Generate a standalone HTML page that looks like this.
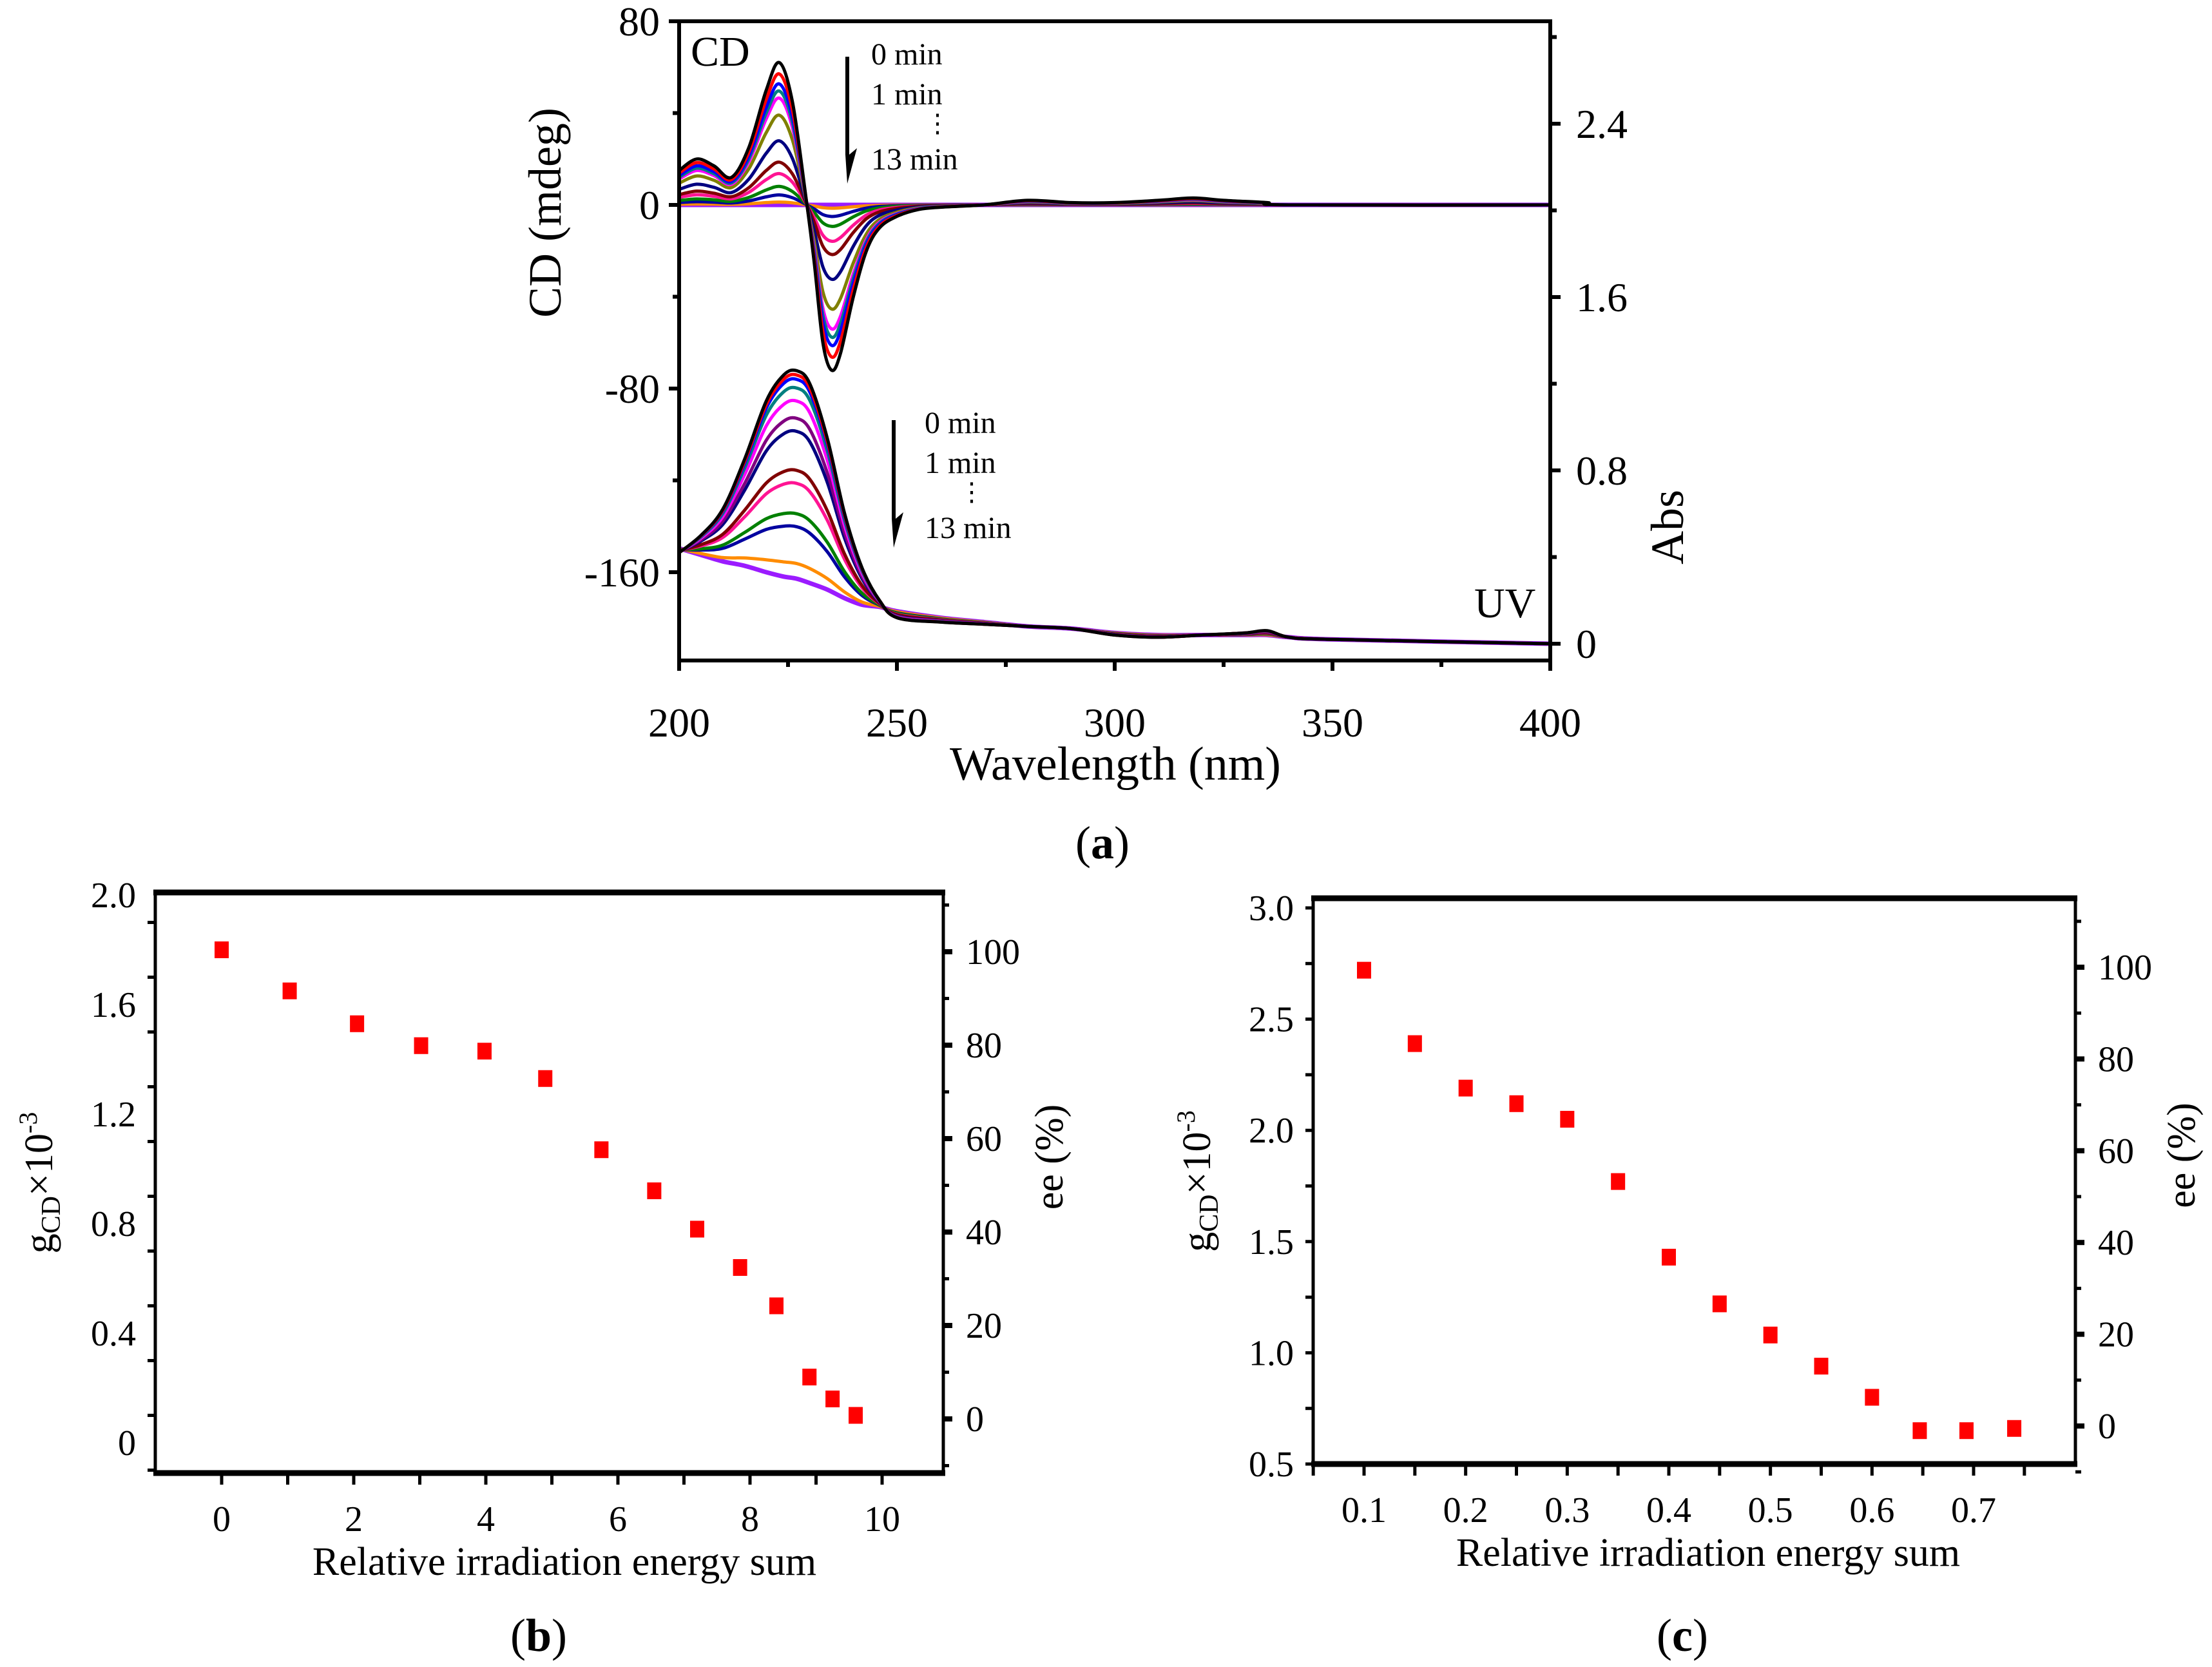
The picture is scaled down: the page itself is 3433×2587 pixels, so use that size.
<!DOCTYPE html>
<html><head><meta charset="utf-8">
<style>
html,body{margin:0;padding:0;background:#fff;}
svg{display:block;font-family:"Liberation Serif",serif;}
</style></head>
<body>
<svg id="fig" width="3433" height="2587" viewBox="0 0 3433 2587" xmlns="http://www.w3.org/2000/svg">
<g id="pa"></g>
<g id="pb"></g>
<g id="pc"></g>
</svg>
<script>
// ---------- Panel (a) data ----------
const wl = [200,204,208,212,216,220,223,226,229,231,233,235,237,240,243,246,250,255,260,270,280,290,300,310,318,325,335,340,400];
const cdBlack = [15,20,17,12,25,50,62,45,5,-25,-60,-72,-65,-40,-20,-10,-5,-2,-1,0,2,1,1,2,3,2,1,0,0];
const cdScale = [1,0.92,0.85,0.80,0.75,0.63,0.45,0.30,0.22,0.13,0.07,0.02,0];
const seriesColors = ["#000000","#ff0000","#0000ff","#008080","#ff00ff","#808000","#000080","#800000","#ff1493","#008000","#0000a0","#ff8c00","#9b1bff"];
const uvWl = [200,205,210,215,220,224,227,230,234,238,242,246,250,260,270,280,290,300,310,320,330,335,340,350,400];
const uvBlack = [0.42,0.50,0.62,0.85,1.12,1.24,1.26,1.20,0.95,0.60,0.35,0.20,0.12,0.10,0.09,0.08,0.07,0.04,0.03,0.04,0.05,0.06,0.03,0.02,0.0];
const uvFinal = [0.44,0.41,0.38,0.36,0.33,0.31,0.30,0.28,0.25,0.21,0.18,0.17,0.15,0.12,0.10,0.08,0.07,0.05,0.04,0.04,0.04,0.04,0.03,0.02,0.0];
const uvPeaks = [1.26,1.24,1.22,1.18,1.12,1.04,0.98,0.80,0.74,0.60,0.54,0.37,0.30];
const uvColors = ["#000000","#ff0000","#0000ff","#008080","#ff00ff","#800080","#000080","#800000","#ff1493","#008000","#0000a0","#ff8c00","#9b1bff"];
const aXTicks = [200,250,300,350,400];
const aCDTicks = [80,0,-80,-160];
const aAbsTicks = [0,0.8,1.6,2.4];
// ---------- Panel (b) data ----------
const bX = [0,1.03,2.05,3.02,3.98,4.9,5.75,6.55,7.2,7.85,8.4,8.9,9.25,9.6];
const bY = [1.80,1.65,1.53,1.45,1.43,1.33,1.07,0.92,0.78,0.64,0.50,0.24,0.16,0.10];
const bXTicks = [0,2,4,6,8,10];
const bYTicks = ["0","0.4","0.8","1.2","1.6","2.0"];
const bEeTicks = [0,20,40,60,80,100];
// ---------- Panel (c) data ----------
const cX = [0.1,0.15,0.2,0.25,0.3,0.35,0.4,0.45,0.5,0.55,0.6,0.647,0.693,0.74];
const cY = [2.72,2.39,2.19,2.12,2.05,1.77,1.43,1.22,1.08,0.94,0.80,0.65,0.65,0.66];
const cXTicks = ["0.1","0.2","0.3","0.4","0.5","0.6","0.7"];
const cYTicks = ["0.5","1.0","1.5","2.0","2.5","3.0"];
const cEeTicks = [0,20,40,60,80,100];

const NS="http://www.w3.org/2000/svg";
function mk(parent,tag,attrs,text){const e=document.createElementNS(NS,tag);for(const k in attrs)e.setAttribute(k,attrs[k]);if(text!==undefined)e.textContent=text;parent.appendChild(e);return e;}
function lin(d0,d1,r0,r1){return v=>r0+(v-d0)*(r1-r0)/(d1-d0);}
function smoothPath(pts){let d="M"+pts[0][0].toFixed(1)+","+pts[0][1].toFixed(1);
 for(let i=0;i<pts.length-1;i++){const p0=pts[Math.max(0,i-1)],p1=pts[i],p2=pts[i+1],p3=pts[Math.min(pts.length-1,i+2)];
  const c1=[p1[0]+(p2[0]-p0[0])/6,p1[1]+(p2[1]-p0[1])/6],c2=[p2[0]-(p3[0]-p1[0])/6,p2[1]-(p3[1]-p1[1])/6];
  d+="C"+c1[0].toFixed(1)+","+c1[1].toFixed(1)+" "+c2[0].toFixed(1)+","+c2[1].toFixed(1)+" "+p2[0].toFixed(1)+","+p2[1].toFixed(1);}
 return d;}

// ===== Panel a =====
(function(){
const g=document.getElementById('pa');
const L=1054,R=2406,T=33,B=1025;
const x=lin(200,400,L,R), yCD=lin(0,80,318,33), yAbs=lin(0,0.8,999,730);
for(let k=uvPeaks.length-1;k>=0;k--){
  const f=(uvPeaks[k]-uvPeaks[uvPeaks.length-1])/(uvPeaks[0]-uvPeaks[uvPeaks.length-1]);
  const pts=uvWl.map((w,i)=>[x(w),yAbs(uvFinal[i]+f*(uvBlack[i]-uvFinal[i]))]);
  const p=mk(g,'path',{d:smoothPath(pts),fill:'none',stroke:uvColors[k],'stroke-width':k===uvPeaks.length-1?7:5});
  
  
}
for(let k=cdScale.length-1;k>=0;k--){
  const pts=wl.map((w,i)=>[x(w),yCD(cdBlack[i]*cdScale[k])]);
  const p=mk(g,'path',{d:smoothPath(pts),fill:'none',stroke:seriesColors[k],'stroke-width':k===cdScale.length-1?7:5});
  
  
}
const fr=mk(g,'rect',{x:L,y:T,width:R-L,height:B-T,fill:'none',stroke:'#000','stroke-width':6});


for(let v=200;v<=400;v+=25){const major=v%50===0;mk(g,'line',{x1:x(v),x2:x(v),y1:B,y2:B+(major?16:10),stroke:'#000','stroke-width':6});}
aXTicks.forEach(v=>{const t=mk(g,'text',{x:x(v),y:B+118,'font-size':64,'text-anchor':'middle'},String(v));
 
 });
for(let v=-200;v<=80;v+=40){const yy=yCD(v);if(yy>B)continue;mk(g,'line',{x1:L-(v%80===0?16:10),x2:L,y1:yy,y2:yy,stroke:'#000','stroke-width':6});}
aCDTicks.forEach(v=>{const t=mk(g,'text',{x:L-30,y:yCD(v)+22,'font-size':64,'text-anchor':'end'},String(v));
 
 });
for(let v=0;v<=2.8;v+=0.4){const yy=yAbs(v);if(yy<T)continue;mk(g,'line',{x1:R,x2:R+(Math.round(v*10)%8===0?16:10),y1:yy,y2:yy,stroke:'#000','stroke-width':6});}
aAbsTicks.forEach(v=>{const t=mk(g,'text',{x:R+40,y:yAbs(v)+22,'font-size':64},String(v));
 
 });
})();
</script>
<script>
(function(){
const g=document.getElementById('pa');
function T(x,y,s,txt,name,extra){const e=document.createElementNS("http://www.w3.org/2000/svg",'text');e.setAttribute('x',x);e.setAttribute('y',y);e.setAttribute('font-size',s);if(extra)for(const k in extra)e.setAttribute(k,extra[k]);e.textContent=txt;
 
 
 g.appendChild(e);return e;}
T(1731,1210,74,"Wavelength (nm)","x-axis-title",{'text-anchor':'middle'});
T(0,0,72,"CD (mdeg)","y-axis-title-cd",{'text-anchor':'middle',transform:'translate(870,330) rotate(-90)'});
T(0,0,72,"Abs","y-axis-title-abs",{'text-anchor':'middle',transform:'translate(2612,818) rotate(-90)'});
T(1072,102,66,"CD","cd-label");
T(2288,958,66,"UV","uv-label");
T(1352,100,48,"0 min","cd-legend-0");
T(1352,162,48,"1 min","cd-legend-1");
T(1352,263,48,"13 min","cd-legend-13");
T(1435,205,40,"⋮","cd-legend-dots");
T(1435,672,48,"0 min","uv-legend-0");
T(1435,734,48,"1 min","uv-legend-1");
T(1435,835,48,"13 min","uv-legend-13");
T(1488,777,40,"⋮","uv-legend-dots");
const pa=T(1711,1332,72,"","panel-label-a",{'text-anchor':'middle'});
pa.innerHTML='(<tspan font-weight="bold">a</tspan>)';
const NS="http://www.w3.org/2000/svg";
function arrow(x,y1,y2,name){const p=document.createElementNS(NS,'path');
 p.setAttribute('d',`M${x-3},${y1} L${x+3},${y1} L${x+3},${y2-45} L${x+15},${y2-55} L${x},${y2} L${x-3},${y2-45}Z`);
 p.setAttribute('fill','#000');
 
 
 g.appendChild(p);}
arrow(1315,88,285,'cd-arrow');
arrow(1387,652,850,'uv-arrow');
})();
</script>
<script>
(function(){
const NS="http://www.w3.org/2000/svg";
function mk(parent,tag,attrs,text){const e=document.createElementNS(NS,tag);for(const k in attrs)e.setAttribute(k,attrs[k]);if(text!==undefined)e.textContent=text;parent.appendChild(e);return e;}
function lin(d0,d1,r0,r1){return v=>r0+(v-d0)*(r1-r0)/(d1-d0);}
function scatter(id,cfg){
 const g=document.getElementById(id);
 const {L,R,Tp,B,x,y,yEe,xs,ys,xTicks,xMinor,yTicks,yMinor,eeTicks,eeMinor,pref,labelX}=cfg;
 const fr=mk(g,'rect',{x:L,y:Tp,width:R-L,height:B-Tp,fill:'none',stroke:'#000','stroke-width':5});
 
 
 mk(g,'line',{x1:L-3,x2:R+3,y1:Tp,y2:Tp,stroke:'#000','stroke-width':9});
 mk(g,'line',{x1:L-3,x2:R+3,y1:B,y2:B,stroke:'#000','stroke-width':9});
 xMinor.forEach(v=>mk(g,'line',{x1:x(v),x2:x(v),y1:B,y2:B+18,stroke:'#000','stroke-width':5}));
 xTicks.forEach(v=>{const t=mk(g,'text',{x:x(+v),y:B+90,'font-size':56,'text-anchor':'middle'},String(v));
  
  });
 yMinor.forEach(v=>mk(g,'line',{x1:L-12,x2:L,y1:y(v),y2:y(v),stroke:'#000','stroke-width':5}));
 yTicks.forEach(v=>{const t=mk(g,'text',{x:L-30,y:y(+v)+19,'font-size':56,'text-anchor':'end'},v);
  
  });
 eeMinor.forEach(v=>mk(g,'line',{x1:R,x2:R+(v%20===0?14:9),y1:yEe(v),y2:yEe(v),stroke:'#000','stroke-width':v%20===0?8:5}));
 eeTicks.forEach(v=>{const t=mk(g,'text',{x:R+35,y:yEe(v)+19,'font-size':56},String(v));
  
  });
 xs.forEach((v,i)=>{const r=mk(g,'rect',{x:x(v)-11,y:y(ys[i])-13,width:22,height:26,fill:'#ff0000'});
  
  });
 const xt=mk(g,'text',{x:labelX,y:B+158,'font-size':62,'text-anchor':'middle'},'Relative irradiation energy sum');
 
 
 const yt=mk(g,'text',{'font-size':62,'text-anchor':'middle',transform:`translate(${L-160},${(Tp+B)/2}) rotate(-90)`});
 
 
 yt.innerHTML='g<tspan font-size="42" dy="12">CD</tspan><tspan dy="-12">×10</tspan><tspan font-size="40" dy="-24">-3</tspan>';
 const et=mk(g,'text',{'font-size':62,'text-anchor':'middle',transform:`translate(${R+185},${(Tp+B)/2-40}) rotate(-90)`},'ee (%)');
 
 
 const pl=mk(g,'text',{x:labelX-40,y:2562,'font-size':72,'text-anchor':'middle'});
 pl.innerHTML='(<tspan font-weight="bold">'+pref+'</tspan>)';
 
 
}
const bMinX=[],bMinY=[],bMinE=[];
for(let v=-1;v<=11;v++)bMinX.push(v);
for(let v=-0.1;v<=2.0;v+=0.2)bMinY.push(+v.toFixed(1));
for(let v=-10;v<=110;v+=10)bMinE.push(v);
scatter('pb',{L:241,R:1464,Tp:1385,B:2286,x:lin(0,10,344,1369),y:lin(0,2,2239,1389),yEe:lin(0,100,2202,1477),
 xs:bX,ys:bY,xTicks:bXTicks,xMinor:bMinX.filter(v=>v>=-0.95&&v<=10.9),yTicks:bYTicks,yMinor:bMinY.filter(v=>v>=-0.1),eeTicks:bEeTicks,eeMinor:bMinE,pref:'b',labelX:876});
const cMinX=[],cMinY=[],cMinE=[];
for(let v=0.05;v<=0.8;v+=0.05)cMinX.push(+v.toFixed(2));
for(let v=0.5;v<=3.0;v+=0.25)cMinY.push(+v.toFixed(2));
for(let v=-10;v<=110;v+=10)cMinE.push(v);
scatter('pc',{L:2038,R:3221,Tp:1394,B:2272,x:lin(0.1,0.7,2117,3063),y:lin(0.5,3.0,2272,1409),yEe:lin(0,100,2213,1501),
 xs:cX,ys:cY,xTicks:cXTicks,xMinor:cMinX,yTicks:cYTicks,yMinor:cMinY,eeTicks:cEeTicks,eeMinor:cMinE,pref:'c',labelX:2651});
})();
</script>
</body></html>
